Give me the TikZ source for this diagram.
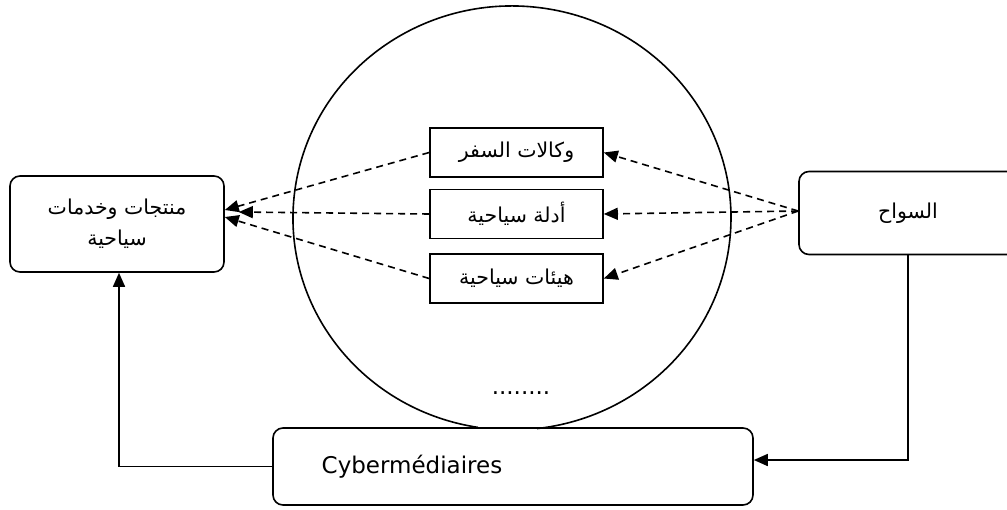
\documentclass[tikz,border=0pt]{standalone}
\usepackage{fontspec}
\setmainfont{DejaVu Sans}
\newfontfamily\arabicfont[Script=Arabic]{DejaVu Sans}
\TeXXeTstate=1
\usetikzlibrary{arrows.meta}

\tikzset{
  box/.style={draw, line width=1.6pt, rounded corners=10pt, inner sep=0pt},
  smallbox/.style={draw, line width=1.6pt, minimum width=173pt, minimum height=49pt, inner sep=0pt},
  arabic/.style={font=\arabicfont\fontsize{20.5}{31}\selectfont},
  latin/.style={font=\fontsize{23}{27}\selectfont},
  link/.style={line width=1.6pt, -{Triangle[length=14pt,width=12pt]}},
  dashlink/.style={link, dash pattern=on 7pt off 5pt},
}

\begin{document}
\begin{tikzpicture}[x=1pt,y=-1pt]
  \useasboundingbox (0,0) rectangle (1007,509);
  % Cloud of intermediaries
  \draw[line width=1.6pt] (478.1,427.4) arc[start angle=98.9, end angle=443.4, x radius=219, y radius=212];
  \node[smallbox, arabic] (agences) at (516.5,152.5) {\beginR وكالات السفر\endR};
  \node[smallbox, arabic] (guides) at (516.5,214) {\beginR أدلة سياحية\endR};
  \node[smallbox, arabic] (orgs) at (516.5,278.5) {\beginR هيئات سياحية\endR};
  \node[latin] (dots) at (521,393) {........};
  % Outer boxes
  \node[box, arabic, align=center, minimum width=214pt, minimum height=96pt] (prod) at (117,224)
    {\beginR منتجات وخدمات\endR\\\beginR سياحية\endR};
  \node[box, arabic, minimum width=218pt, minimum height=83pt] (tour) at (908,213) {\beginR السواح\endR};
  \node[box, minimum width=480pt, minimum height=77pt] (cyber) at (513,466.5) {};
  \node[latin] (cyberlbl) at (412,467) {Cybermédiaires};
  % Tourists to intermediaries
  \draw[dashlink] ([yshift=2pt]tour.west) -- (agences.east);
  \draw[dashlink] ([yshift=2pt]tour.west) -- (guides.east);
  \draw[dashlink] ([yshift=2pt]tour.west) -- (orgs.east);
  % Intermediaries to products
  \draw[dashlink] (agences.west) -- ([yshift=14pt]prod.east);
  \draw[dashlink] (guides.west) -- ([xshift=14pt,yshift=12pt]prod.east);
  \draw[dashlink] (orgs.west) -- ([yshift=7pt]prod.east);
  % Cybermediaries path
  \draw[link] (tour.south) |- ([yshift=6.5pt]cyber.east);
  \draw[link] (cyber.west) -| ([xshift=2pt]prod.south);
\end{tikzpicture}
\end{document}
